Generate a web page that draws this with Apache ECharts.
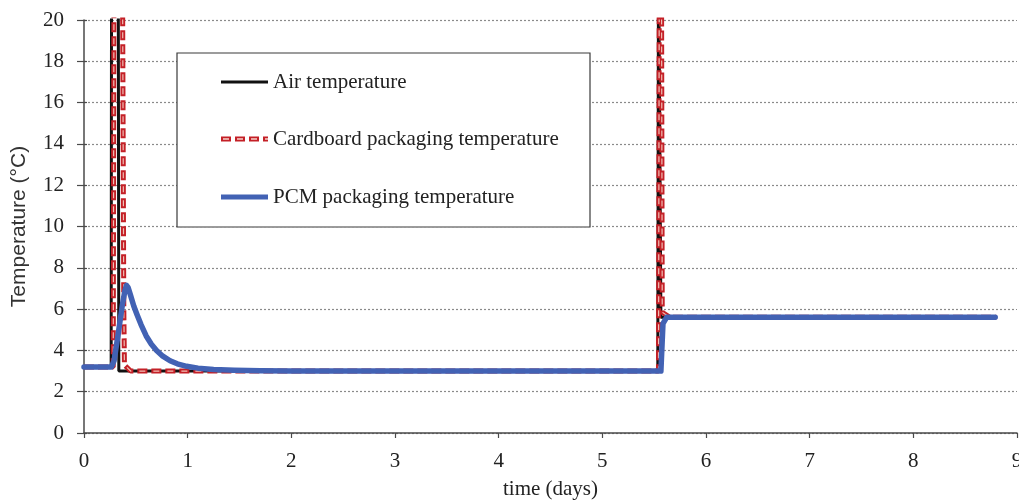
<!DOCTYPE html>
<html>
<head>
<meta charset="utf-8">
<script src="https://cdn.jsdelivr.net/npm/echarts@6/dist/echarts.min.js"></script>
<style>
  html, body { margin: 0; padding: 0; background: #fff; }
  #chart { width: 1019px; height: 501px; }
</style>
</head>
<body>
<div id="chart"></div>
<script>
// Temperature records (°C) over time (days)
const seriesNames = ['Air temperature', 'Cardboard packaging temperature', 'PCM packaging temperature'];

const airDays = [0, 0.262, 0.266, 0.330, 0.336, 5.535, 5.542, 5.558, 5.565, 8.80];
const airTemp = [3.2, 3.2, 24, 24, 3.0, 3.0, 24, 24, 5.6, 5.6];

const cardDays = [0, 0.282, 0.290, 0.370, 0.384, 0.390, 0.45, 5.542, 5.550, 5.570, 5.578, 5.65, 8.80];
const cardTemp = [3.2, 3.2, 24, 24, 6.0, 3.3, 3.0, 3.0, 24, 24, 5.85, 5.6, 5.6];

const pcmDays = [0, 0.265, 0.29, 0.33, 0.37, 0.395, 0.41, 0.425, 0.45, 0.48, 0.51, 0.55, 0.60, 0.65, 0.70, 0.76,
  0.83, 0.90, 0.99, 1.10, 1.25, 1.45, 1.70, 2.0, 5.565, 5.585, 5.62, 8.79];
const pcmTemp = [3.2, 3.2, 3.5, 4.8, 6.2, 6.9, 7.15, 7.05, 6.65, 6.15, 5.75, 5.25, 4.70, 4.30, 4.00, 3.72,
  3.50, 3.35, 3.23, 3.14, 3.08, 3.04, 3.01, 3.0, 3.0, 5.3, 5.6, 5.6];

const xTicks = { min: 0, max: 9, interval: 1 };
const yTicks = { min: 0, max: 20, interval: 2 };

const pairs = (xs, ys) => xs.map((x, i) => [x, ys[i]]);

const serif = "'Liberation Serif', 'DejaVu Serif', serif";
const sans = "'Liberation Sans', Arial, sans-serif";
const axisColor = '#4a4a4a';
const airColor = '#111111';
const cardColor = '#c42027';
const cardCore = '#f0c0b6';
const pcmColor = '#4262b4';

const chart = echarts.init(document.getElementById('chart'), null, { renderer: 'canvas' });

// Legend drawn as a boxed key
const lgX = 177, lgY = 53, lgW = 413, lgH = 174;
const rows = [82, 139, 197];
const lineX0 = 221, lineX1 = 268, textX = 273;

const legendGraphic = {
  type: 'group',
  children: [
    { type: 'rect', shape: { x: lgX, y: lgY, width: lgW, height: lgH },
      style: { fill: '#fff', stroke: '#3a3a3a', lineWidth: 1.2 }, z: 10 },
    { type: 'line', shape: { x1: lineX0, y1: rows[0], x2: lineX1, y2: rows[0] },
      style: { stroke: airColor, lineWidth: 3 }, z: 11 },
    { type: 'line', shape: { x1: lineX0, y1: rows[1], x2: lineX1, y2: rows[1] },
      style: { stroke: cardColor, lineWidth: 5, lineDash: [10, 4] }, z: 11 },
    { type: 'line', shape: { x1: lineX0, y1: rows[1], x2: lineX1, y2: rows[1] },
      style: { stroke: '#f6d2cc', lineWidth: 1.6, lineDash: [6, 8], lineDashOffset: -2 }, z: 12 },
    { type: 'line', shape: { x1: lineX0, y1: rows[2], x2: lineX1, y2: rows[2] },
      style: { stroke: pcmColor, lineWidth: 5 }, z: 11 }
  ].concat(seriesNames.map((name, i) => ({
    type: 'text', x: textX, y: rows[i], z: 12,
    style: { text: name, fill: '#222', font: '21px ' + serif, textVerticalAlign: 'middle', textAlign: 'left' }
  })))
};

const option = {
  animation: false,
  backgroundColor: '#fff',
  grid: { left: 84, right: 2, top: 20, bottom: 68, containLabel: false, outerBoundsMode: 'none' },
  xAxis: {
    type: 'value',
    min: xTicks.min, max: xTicks.max, interval: xTicks.interval,
    name: 'time (days)',
    nameLocation: 'middle',
    nameGap: 46,
    nameTextStyle: { fontFamily: serif, fontSize: 21, color: '#222' },
    axisLine: { show: true, onZero: false, lineStyle: { color: axisColor, width: 1.5 } },
    axisTick: { show: true, length: 5, lineStyle: { color: axisColor, width: 1.2 } },
    axisLabel: { margin: 18, fontFamily: serif, fontSize: 21, color: '#222', showMaxLabel: true, showMinLabel: true },
    splitLine: { show: false }
  },
  yAxis: [{
    type: 'value',
    min: yTicks.min, max: yTicks.max, interval: yTicks.interval,
    name: 'Temperature (°C)',
    nameLocation: 'middle',
    nameGap: 54,
    nameTextStyle: { fontFamily: sans, fontSize: 21, color: '#333' },
    axisLine: { show: true, lineStyle: { color: axisColor, width: 1.5 } },
    axisTick: { show: true, length: 7, lineStyle: { color: axisColor, width: 1.2 } },
    axisLabel: { margin: 20, fontFamily: serif, fontSize: 21, color: '#222' },
    splitLine: { show: true, lineStyle: { color: '#8a8a8a', width: 1.2, type: [2, 2] } }
  }, {
    // short inner stubs so the y ticks cross the axis line
    type: 'value',
    position: 'left',
    min: yTicks.min, max: yTicks.max, interval: yTicks.interval,
    axisLine: { show: false },
    axisTick: { show: true, inside: true, length: 3, lineStyle: { color: axisColor, width: 1.2 } },
    axisLabel: { show: false },
    splitLine: { show: false }
  }],
  series: [
    {
      name: seriesNames[0], type: 'line', showSymbol: false, clip: true, z: 2,
      data: pairs(airDays, airTemp),
      lineStyle: { color: airColor, width: 3 }
    },
    {
      name: seriesNames[1], type: 'line', showSymbol: false, clip: true, z: 3,
      data: pairs(cardDays, cardTemp),
      lineStyle: { color: cardColor, width: 5, type: [10, 4] }
    },
    {
      name: 'cardboard-core', type: 'line', showSymbol: false, clip: true, z: 4,
      data: pairs(cardDays, cardTemp),
      lineStyle: { color: cardCore, width: 1.2, type: [6, 8], dashOffset: -2 }
    },
    {
      name: seriesNames[2], type: 'line', showSymbol: false, clip: true, z: 5,
      data: pairs(pcmDays, pcmTemp),
      lineStyle: { color: pcmColor, width: 5.5, join: 'round', cap: 'round' }
    }
  ],
  graphic: [legendGraphic]
};

chart.setOption(option);
</script>
</body>
</html>
